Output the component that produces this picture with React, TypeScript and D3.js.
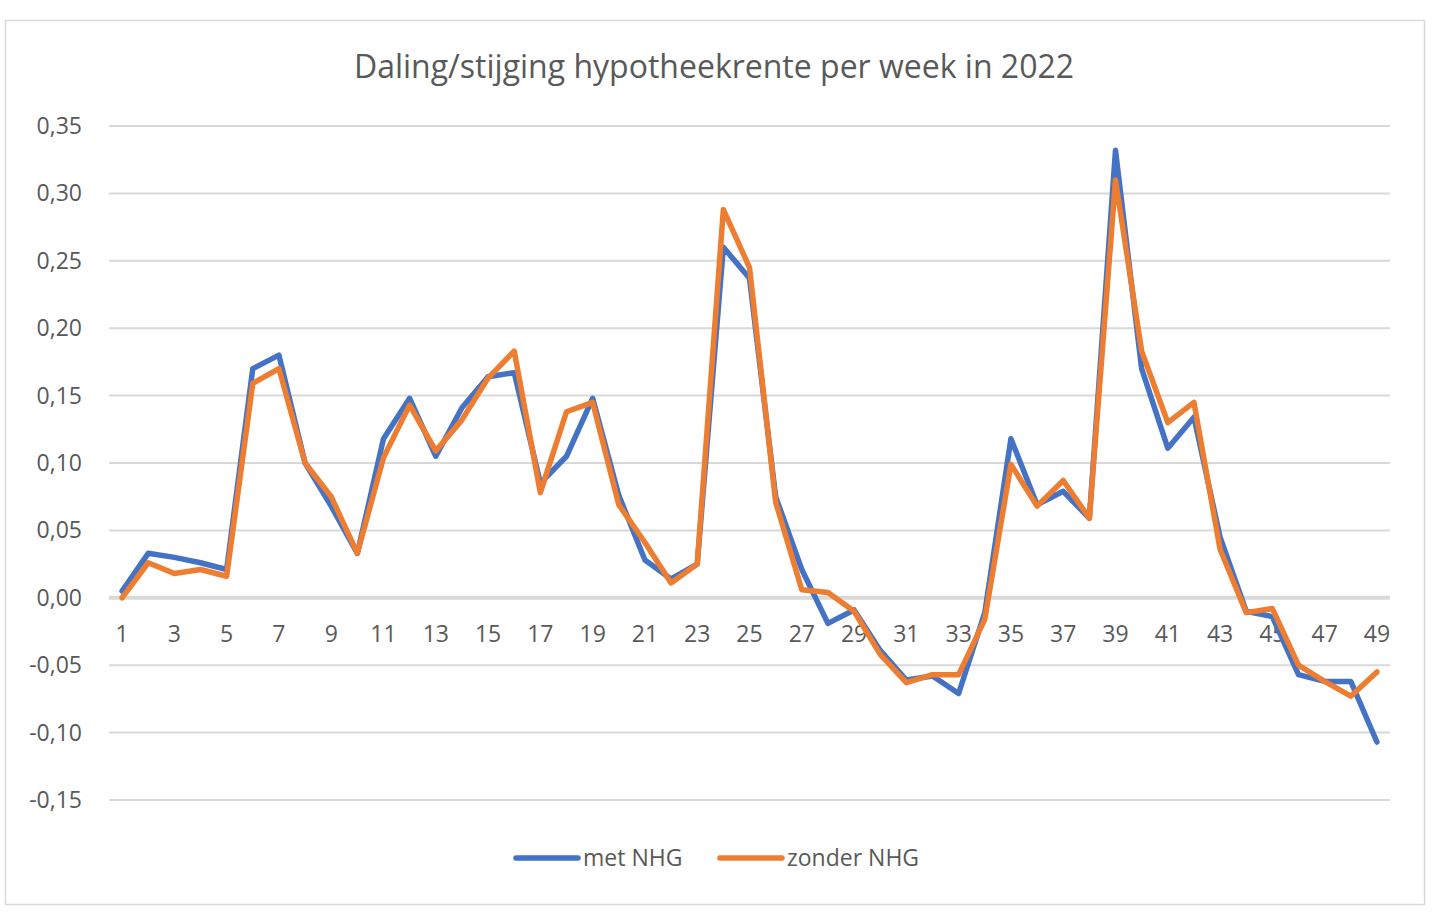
import React, { useEffect, useRef } from 'react';
import * as d3 from 'd3';

// weeks 1..49
const weeks: number[] = Array.from({ length: 49 }, (_, i) => i + 1);

const metNHG: number[] = [
  0.005, 0.033, 0.030, 0.026, 0.021, 0.170, 0.180, 0.100, 0.068, 0.033,
  0.118, 0.148, 0.105, 0.141, 0.164, 0.167, 0.085, 0.105, 0.148, 0.076,
  0.028, 0.014, 0.025, 0.260, 0.237, 0.075, 0.021, -0.019, -0.009, -0.039,
  -0.061, -0.058, -0.071, -0.011, 0.118, 0.069, 0.079, 0.059, 0.332, 0.170,
  0.111, 0.134, 0.045, -0.010, -0.014, -0.057, -0.062, -0.062, -0.107,
];

const zonderNHG: number[] = [
  0.000, 0.026, 0.018, 0.021, 0.016, 0.159, 0.170, 0.100, 0.075, 0.033,
  0.104, 0.143, 0.109, 0.132, 0.163, 0.183, 0.078, 0.138, 0.145, 0.069,
  0.041, 0.011, 0.025, 0.288, 0.245, 0.071, 0.006, 0.004, -0.010, -0.042,
  -0.063, -0.057, -0.057, -0.016, 0.099, 0.068, 0.087, 0.059, 0.310, 0.183,
  0.130, 0.145, 0.036, -0.011, -0.008, -0.050, -0.062, -0.073, -0.055,
];

const yTicks: number[] = [-0.15, -0.1, -0.05, 0, 0.05, 0.1, 0.15, 0.2, 0.25, 0.3, 0.35];

const seriesNames: string[] = ['met NHG', 'zonder NHG'];
const seriesColors: string[] = ['#4472C4', '#ED7D31'];

const W = 1440;
const H = 918;
const FONT = '"Open Sans", "Noto Sans", sans-serif';
const LABEL_SIZE = 23;

const App: React.FC = () => {
  const svgRef = useRef<SVGSVGElement | null>(null);

  useEffect(() => {
    if (!svgRef.current) return;
    const svg = d3.select(svgRef.current);
    svg.selectAll('*').remove();

    // chart frame
    svg.append('rect')
      .attr('x', 5.5).attr('y', 20.5)
      .attr('width', 1419).attr('height', 884)
      .attr('fill', '#fff')
      .attr('stroke', '#d9d9d9')
      .attr('stroke-width', 1.5);

    // title
    svg.append('text')
      .attr('x', 714).attr('y', 78)
      .attr('text-anchor', 'middle')
      .attr('font-family', FONT)
      .attr('font-size', 32)
      .attr('fill', '#595959')
      .text('Daling/stijging hypotheekrente per week in 2022');

    // scales
    const x = d3.scaleBand<number>()
      .domain(weeks)
      .range([109, 1390]);
    const cx = (w: number) => x(w)! + x.bandwidth() / 2;

    const y = d3.scaleLinear()
      .domain([-0.15, 0.35])
      .range([800, 126]);

    // gridlines
    svg.append('g')
      .selectAll('line')
      .data(yTicks.filter(t => Math.abs(t) > 1e-9))
      .join('line')
      .attr('x1', 109).attr('x2', 1390)
      .attr('y1', d => y(d)).attr('y2', d => y(d))
      .attr('stroke', '#d9d9d9')
      .attr('stroke-width', 2);

    // y labels
    const fmt = (v: number) => d3.format('.2f')(v).replace('.', ',').replace('−', '-');
    svg.append('g')
      .selectAll('text')
      .data(yTicks)
      .join('text')
      .attr('x', 82)
      .attr('y', d => y(d))
      .attr('dy', '0.35em')
      .attr('text-anchor', 'end')
      .attr('font-family', FONT)
      .attr('font-size', LABEL_SIZE)
      .attr('fill', '#595959')
      .text(d => fmt(d));

    // zero axis line
    svg.append('line')
      .attr('x1', 109).attr('x2', 1390)
      .attr('y1', y(0)).attr('y2', y(0))
      .attr('stroke', '#d9d9d9')
      .attr('stroke-width', 4);

    // x labels (odd weeks)
    svg.append('g')
      .selectAll('text')
      .data(weeks.filter(w => w % 2 === 1))
      .join('text')
      .attr('x', d => cx(d))
      .attr('y', 642)
      .attr('text-anchor', 'middle')
      .attr('font-family', FONT)
      .attr('font-size', LABEL_SIZE)
      .attr('fill', '#595959')
      .text(d => String(d));

    // lines
    const line = d3.line<number>()
      .x((_, i) => cx(weeks[i]))
      .y(d => y(d));

    [metNHG, zonderNHG].forEach((vals, i) => {
      svg.append('path')
        .datum(vals)
        .attr('d', line)
        .attr('fill', 'none')
        .attr('stroke', seriesColors[i])
        .attr('stroke-width', 5.5)
        .attr('stroke-linejoin', 'round')
        .attr('stroke-linecap', 'round');
    });

    // legend
    const legendX = [516, 720];
    seriesNames.forEach((name, i) => {
      const g = svg.append('g').attr('transform', `translate(${legendX[i]}, 858)`);
      g.append('line')
        .attr('x1', 0).attr('x2', 62)
        .attr('y1', 0).attr('y2', 0)
        .attr('stroke', seriesColors[i])
        .attr('stroke-width', 5.5)
        .attr('stroke-linecap', 'round');
      g.append('text')
        .attr('x', 67)
        .attr('y', 0)
        .attr('dy', '0.35em')
        .attr('font-family', FONT)
        .attr('font-size', LABEL_SIZE)
        .attr('fill', '#595959')
        .text(name);
    });
  }, []);

  return (
    <svg
      ref={svgRef}
      width={W}
      height={H}
      style={{ position: 'absolute', left: 0, top: 0, background: '#fff' }}
    />
  );
};

export default App;
